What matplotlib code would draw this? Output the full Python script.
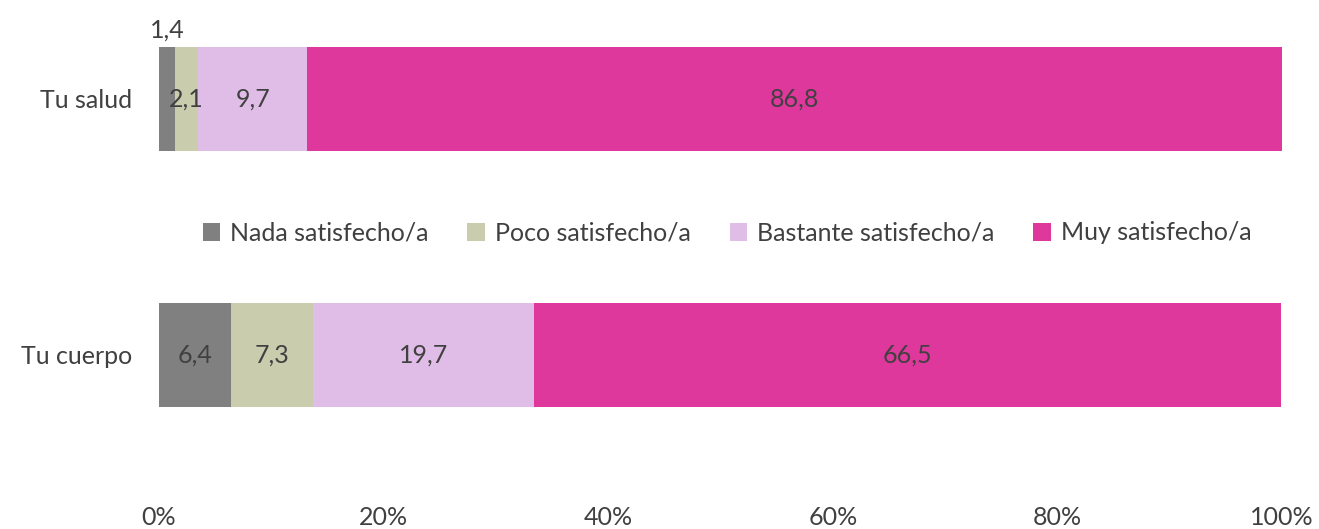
import matplotlib.pyplot as plt
import numpy as np

plt.rcParams['font.family'] = ['Lato', 'DejaVu Sans']

# data
categories = ["Tu salud", "Tu cuerpo"]
series_names = ["Nada satisfecho/a", "Poco satisfecho/a",
                "Bastante satisfecho/a", "Muy satisfecho/a"]
nada = [1.4, 6.4]
poco = [2.1, 7.3]
bastante = [9.7, 19.7]
muy = [86.8, 66.5]
colors = ["#808080", "#C9CCAD", "#E0BDE6", "#DE389C"]

W, H = 1319, 529
fig = plt.figure(figsize=(W / 100, H / 100), dpi=100)
ax = fig.add_axes([159 / W, 29 / H, (1282 - 159) / W, (H - 29) / H])

ypos = np.arange(len(categories))
bar_h = 104 / 256
left = np.zeros(len(categories))
txt = "#404040"
fs = 18
for name, vals, col in zip(series_names, [nada, poco, bastante, muy], colors):
    vals = np.array(vals)
    ax.barh(ypos, vals, left=left, height=bar_h, color=col, label=name)
    for i, v in enumerate(vals):
        cx = left[i] + v / 2
        if categories[i] == "Tu salud" and name == "Nada satisfecho/a":
            # label above the thin segment
            ax.text(cx, ypos[i] - bar_h / 2 - 0.02, f"{v:.1f}".replace(".", ","),
                    ha="center", va="bottom", fontsize=fs, color=txt)
        else:
            ax.text(cx, ypos[i], f"{v:.1f}".replace(".", ","),
                    ha="center", va="center", fontsize=fs, color=txt)
    left = left + vals

ax.set_xlim(0, 100)
ax.set_ylim((H - 29 - 99) / 256, -99 / 256)
ax.set_yticks(ypos)
ax.set_yticklabels(categories, fontsize=fs, color=txt)
ax.set_xticks(np.arange(0, 101, 20))
ax.set_xticklabels([f"{t}%" for t in range(0, 101, 20)], fontsize=fs, color=txt)
ax.tick_params(axis="y", length=0, pad=19)
ax.tick_params(axis="x", length=0, pad=4)
for s in ax.spines.values():
    s.set_visible(False)

fig.legend(loc="center", bbox_to_anchor=(727 / W, 1 - 233 / H), ncol=4,
           frameon=False, fontsize=fs, handlelength=0.7, handleheight=0.7,
           handletextpad=0.4, columnspacing=1.55, labelcolor=txt)

fig.savefig("out.png", dpi=100)
